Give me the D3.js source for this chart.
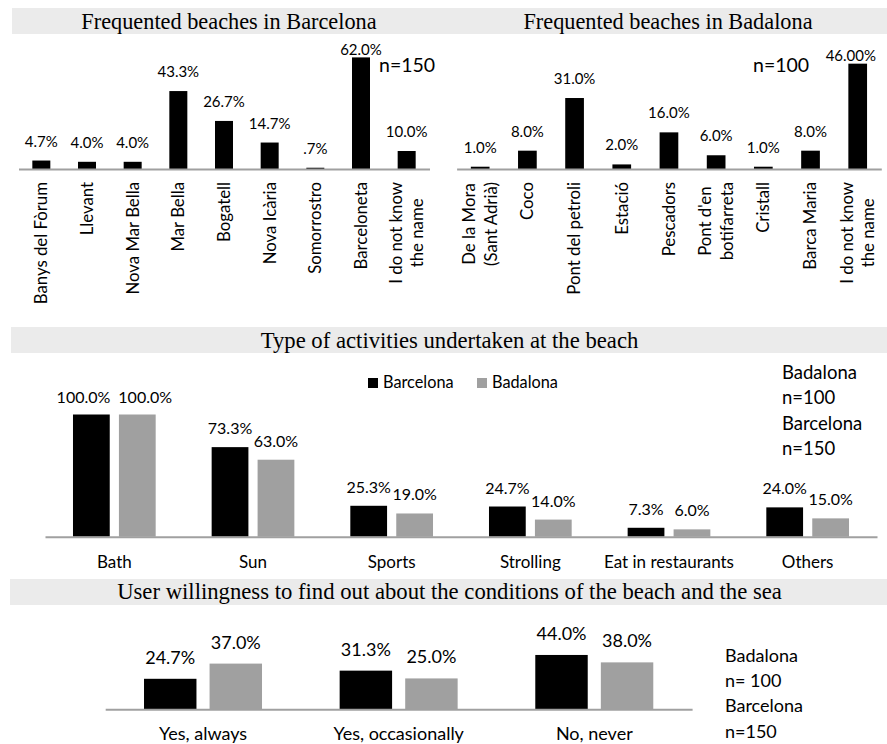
<!DOCTYPE html>
<html>
<head>
<meta charset="utf-8">
<script src="https://cdn.jsdelivr.net/npm/d3@7"></script>
<style>
  body { margin: 0; background: #fff; }
  svg { display: block; }
</style>
</head>
<body>
<svg id="chart" width="887" height="744"></svg>
<script>
// ---- data ----
const bcnBeaches = ['Banys del Fòrum', 'Llevant', 'Nova Mar Bella', 'Mar Bella', 'Bogatell',
  'Nova Icària', 'Somorrostro', 'Barceloneta', 'I do not know\nthe name'];
const bcnValues = [4.7, 4.0, 4.0, 43.3, 26.7, 14.7, 0.7, 62.0, 10.0];
const bcnLabels = ['4.7%', '4.0%', '4.0%', '43.3%', '26.7%', '14.7%', '.7%', '62.0%', '10.0%'];

const bdnBeaches = ['De la Mora\n(Sant Adrià)', 'Coco', 'Pont del petroli', 'Estació', 'Pescadors',
  "Pont d'en\nbotifarreta", 'Cristall', 'Barca Maria', 'I do not know\nthe name'];
const bdnValues = [1.0, 8.0, 31.0, 2.0, 16.0, 6.0, 1.0, 8.0, 46.0];
const bdnLabels = ['1.0%', '8.0%', '31.0%', '2.0%', '16.0%', '6.0%', '1.0%', '8.0%', '46.00%'];

const series = ['Barcelona', 'Badalona'];

const activities = ['Bath', 'Sun', 'Sports', 'Strolling', 'Eat in restaurants', 'Others'];
const actBarcelona = [100.0, 73.3, 25.3, 24.7, 7.3, 24.0];
const actBadalona = [100.0, 63.0, 19.0, 14.0, 6.0, 15.0];

const willingness = ['Yes, always', 'Yes, occasionally', 'No, never'];
const willBarcelona = [24.7, 31.3, 44.0];
const willBadalona = [37.0, 25.0, 38.0];

const notesActivities = ['Badalona', 'n=100', 'Barcelona', 'n=150'];
const notesWillingness = ['Badalona', 'n= 100', 'Barcelona', 'n=150'];

// ---- style ----
const SANS = 'Lato, Carlito, Calibri, sans-serif';
const SERIF = '"Liberation Serif", "Times New Roman", serif';
const AXIS_GRAY = '#a0a0a0';
const BAR_GRAY = '#a0a0a0';
const BAND_GRAY = '#ebebeb';
const fmt = v => d3.format('.1f')(v) + '%';

const svg = d3.select('#chart');
const color = d3.scaleOrdinal().domain(series).range(['#000', BAR_GRAY]);

function titleBar(x0, x1, y0, y1) {
  svg.append('rect')
    .attr('x', x0).attr('y', y0)
    .attr('width', x1 - x0).attr('height', y1 - y0)
    .attr('fill', BAND_GRAY);
}

function title(text, cx, baseline, size) {
  svg.append('text')
    .attr('x', cx).attr('y', baseline)
    .attr('text-anchor', 'middle')
    .attr('font-family', SERIF)
    .attr('font-size', size)
    .attr('fill', '#000')
    .text(text);
}

function notes(lines, x, y0, step, size) {
  svg.append('g').selectAll('text')
    .data(lines)
    .join('text')
    .attr('x', x)
    .attr('y', (d, i) => y0 + i * step)
    .attr('font-family', SANS)
    .attr('font-size', size)
    .attr('fill', '#000')
    .text(d => d);
}

// single-series beach chart with rotated category labels
function beachPanel(names, values, labels, o) {
  const g = svg.append('g');
  const x = d3.scaleBand().domain(names).range(o.xRange);
  const y = d3.scaleLinear().domain(o.yDomain).range(o.yRange);
  const cx = n => x(n) + x.bandwidth() / 2;
  const rows = names.map((n, i) => ({name: n, value: values[i], label: labels[i]}));

  g.selectAll('rect')
    .data(rows)
    .join('rect')
    .attr('x', d => cx(d.name) - o.barW / 2)
    .attr('y', d => y(d.value))
    .attr('width', o.barW)
    .attr('height', d => y(0) - y(d.value))
    .attr('fill', '#000');

  const axis = g.append('g')
    .attr('transform', `translate(0,${y(0)})`)
    .call(d3.axisBottom(x).tickSize(0).tickFormat(''));
  axis.select('.domain').attr('stroke', AXIS_GRAY).attr('stroke-width', 2);
  axis.selectAll('.tick').remove();

  g.selectAll('text.val')
    .data(rows)
    .join('text')
    .attr('class', 'val')
    .attr('x', d => cx(d.name))
    .attr('y', d => Math.max(y(d.value) - 14, o.labelFloor))
    .attr('text-anchor', 'middle')
    .attr('font-family', SANS)
    .attr('font-size', 15)
    .attr('fill', '#000')
    .text(d => d.label)
    .each(function () {
      const w = this.getComputedTextLength();
      const xx = +this.getAttribute('x');
      if (xx + w / 2 > o.labelMaxX) d3.select(this).attr('x', o.labelMaxX - w / 2);
    });

  // rotated, possibly two-line category labels
  g.selectAll('g.cat')
    .data(rows)
    .join('g')
    .attr('class', 'cat')
    .attr('transform', d => `translate(${cx(d.name)},${o.labelTop}) rotate(-90)`)
    .each(function (d) {
      const sel = d3.select(this);
      const lines = d.name.split('\n');
      const ts = lines.map((s, i) => sel.append('text')
        .attr('y', (i - (lines.length - 1) / 2) * 21.6)
        .attr('dy', '0.35em')
        .attr('text-anchor', 'middle')
        .attr('font-family', SANS)
        .attr('font-size', 16.8)
        .attr('fill', '#000')
        .text(s));
      const maxLen = d3.max(ts, t => t.node().getComputedTextLength());
      ts.forEach(t => t.attr('x', -maxLen / 2));
    });

  g.append('text')
    .attr('x', o.nX).attr('y', 71.5)
    .attr('font-family', SANS)
    .attr('font-size', 19.5)
    .attr('fill', '#000')
    .text(o.nText);
}

// two-series grouped bar chart
function groupedPanel(cats, bcn, bdn, o) {
  const g = svg.append('g');
  const x0 = d3.scaleBand().domain(cats).range(o.xRange);
  const x1 = d3.scaleBand().domain(series).range([0, o.groupW]).paddingInner(0.2);
  const y = d3.scaleLinear().domain([0, 100]).range(o.yRange);
  const rows = cats.map((c, i) => ({
    cat: c,
    vals: [{s: 'Barcelona', v: bcn[i]}, {s: 'Badalona', v: bdn[i]}]
  }));

  const groups = g.selectAll('g.grp')
    .data(rows)
    .join('g')
    .attr('class', 'grp')
    .attr('transform', d => `translate(${x0(d.cat) + (x0.bandwidth() - o.groupW) / 2},0)`);

  groups.selectAll('rect')
    .data(d => d.vals)
    .join('rect')
    .attr('x', d => x1(d.s))
    .attr('y', d => y(d.v))
    .attr('width', x1.bandwidth())
    .attr('height', d => y(0) - y(d.v))
    .attr('fill', d => color(d.s));

  groups.each(function () {
    const texts = d3.select(this).selectAll('text')
      .data(d => d.vals)
      .join('text')
      .attr('x', d => x1(d.s) + x1.bandwidth() / 2)
      .attr('y', d => Math.max(y(d.v) - o.labelOff, o.labelFloor))
      .attr('text-anchor', 'middle')
      .attr('font-family', SANS)
      .attr('font-size', o.valSize)
      .attr('fill', '#000')
      .text(d => fmt(d.v))
      .nodes();
    // push overlapping labels apart
    const [a, b] = texts;
    const wa = a.getComputedTextLength(), wb = b.getComputedTextLength();
    const ca = +a.getAttribute('x'), cb = +b.getAttribute('x');
    const overlap = (wa + wb) / 2 - (cb - ca);
    if (overlap > 0) {
      a.setAttribute('x', ca - overlap / 2 - 4);
      b.setAttribute('x', cb + overlap / 2 + 4);
    }
  });

  const axis = g.append('g')
    .attr('transform', `translate(0,${y(0)})`)
    .call(d3.axisBottom(x0).tickSize(0).tickPadding(o.tickPad));
  axis.select('.domain').attr('stroke', AXIS_GRAY).attr('stroke-width', 2);
  axis.selectAll('.tick text')
    .attr('font-family', SANS)
    .attr('font-size', o.catSize)
    .attr('fill', '#000');
}

// ---- top row ----
titleBar(12, 887, 8, 34);
title('Frequented beaches in Barcelona', 229, 29, 22.3);
title('Frequented beaches in Badalona', 668, 29, 22.3);

beachPanel(bcnBeaches, bcnValues, bcnLabels, {
  xRange: [18.5, 429.5], yDomain: [0, 70], yRange: [169, 43], barW: 18,
  labelFloor: 55, labelMaxX: 440, labelTop: 182, nX: 379, nText: 'n=150'
});
beachPanel(bdnBeaches, bdnValues, bdnLabels, {
  xRange: [456.6, 881.3], yDomain: [0, 50], yRange: [169, 54.5], barW: 18.7,
  labelFloor: 61, labelMaxX: 876, labelTop: 182, nX: 753, nText: 'n=100'
});

// ---- activities ----
titleBar(11, 887, 327, 353);
title('Type of activities undertaken at the beach', 449.5, 348, 22.7);

groupedPanel(activities, actBarcelona, actBadalona, {
  xRange: [45, 877], groupW: 82.7, yRange: [536.7, 414.5],
  labelOff: 13, labelFloor: 403, valSize: 16, catSize: 17, tickPad: 19.5
});

const legendX = [368, 477];
const legend = svg.append('g').selectAll('g')
  .data(series)
  .join('g')
  .attr('transform', (d, i) => `translate(${legendX[i]},378)`);
legend.append('rect').attr('width', 10).attr('height', 10).attr('fill', d => color(d));
legend.append('text')
  .attr('x', 15).attr('y', 10)
  .attr('font-family', SANS)
  .attr('font-size', 16.3)
  .attr('fill', '#000')
  .text(d => d);

notes(notesActivities, 782, 379, 25.3, 18.5);

// ---- willingness ----
titleBar(10, 887, 579, 605);
title('User willingness to find out about the conditions of the beach and the sea', 449.5, 599, 22.7);

groupedPanel(willingness, willBarcelona, willBadalona, {
  xRange: [105.2, 692.1], groupW: 118, yRange: [709.3, 585.8],
  labelOff: 15, labelFloor: 0, valSize: 18, catSize: 18, tickPad: 18
});

notes(notesWillingness, 725, 661.7, 25.3, 18);
</script>
</body>
</html>
